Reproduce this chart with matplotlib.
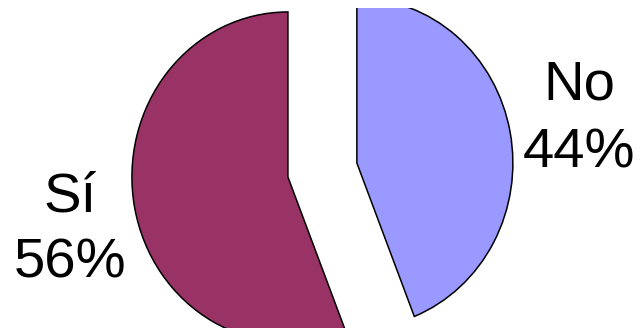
import matplotlib
matplotlib.use('Agg')
import matplotlib.pyplot as plt

labels = ['Sí', 'No']
values = [56, 44]
colors = ['#993366', '#9999FF']
explode = [0.225, 0.225]

# label anchors in figure pixels: (centre x, name baseline, pct baseline)
label_pos = [(70, 212, 278), (579, 100, 168)]

W, H = 643, 332
top, bottom = 8, 328  # pie area is cropped to this band
fig = plt.figure(figsize=(W / 100, H / 100), dpi=100)
ax = fig.add_axes([0, (H - bottom) / H, 1, (bottom - top) / H])

ax.pie(values, colors=colors, explode=explode, startangle=90,
       counterclock=True,
       wedgeprops=dict(edgecolor='black', linewidth=1.1, clip_on=True))

# squashed pie, cut off at top and bottom
sx, sy = 156.0, 165.0
cx, cy = 322.4, 170.0
ax.set_aspect('auto')
ax.set_xlim(-cx / sx, (W - cx) / sx)
ax.set_ylim(-(bottom - cy) / sy, (cy - top) / sy)
ax.axis('off')

for name, v, (x, yn, yp) in zip(labels, values, label_pos):
    for txt, yb in ((name, yn), (f'{v}%', yp)):
        fig.text(x / W, 1 - yb / H, txt, ha='center', va='baseline',
                 fontsize=40.5, family='Liberation Sans', color='black')

fig.savefig('out.png', dpi=100)
